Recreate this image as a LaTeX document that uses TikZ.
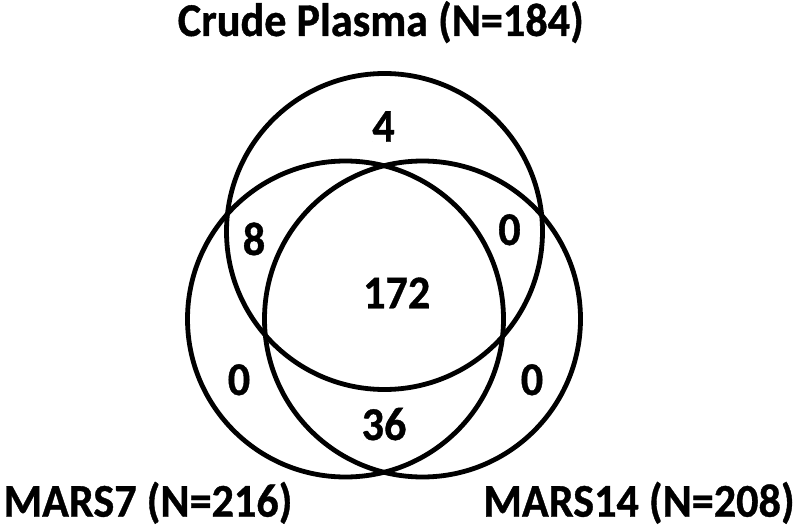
\documentclass[tikz,border=0pt]{standalone}
\usepackage{fontspec}
\setmainfont{Carlito}[BoldFeatures={FakeBold=0.8}]
\begin{document}
\begin{tikzpicture}[x=1pt,y=1pt,
  ring/.style={draw=black,line width=4.8pt,fill=none},
  lbl/.style={font=\fontsize{47}{52}\selectfont\bfseries,inner sep=0pt,anchor=base,text=black,xscale=0.94,transform shape}]
\useasboundingbox[fill=white] (0,0) rectangle (800,531);
% circles (y measured downward in the reference: y = 531 - ypx)
\node[ring,circle,minimum size=316pt,inner sep=0pt] (top) at (384.5,299.5) {};
\node[ring,circle,minimum size=316pt,inner sep=0pt] (left) at (345.5,212) {};
\node[ring,circle,minimum size=316pt,inner sep=0pt] (right) at (422.5,212) {};
% titles
\node[lbl] (tCP) at (380.8,495) {Crude Plasma (N=184)};
\node[lbl] (tM7) at (148,14.3) {MARS7 (N=216)};
\node[lbl] (tM14) at (639,14.3) {MARS14 (N=208)};
% region counts
\node[lbl] (n4) at (383.5,389.3) {4};
\node[lbl] (n8) at (254,276) {8};
\node[lbl] (n0tr) at (509.5,286) {0};
\node[lbl] (n172) at (396.7,222.7) {172};
\node[lbl] (n0l) at (239,136) {0};
\node[lbl] (n0r) at (532,136) {0};
\node[lbl] (n36) at (384,91) {36};
\end{tikzpicture}
\end{document}
